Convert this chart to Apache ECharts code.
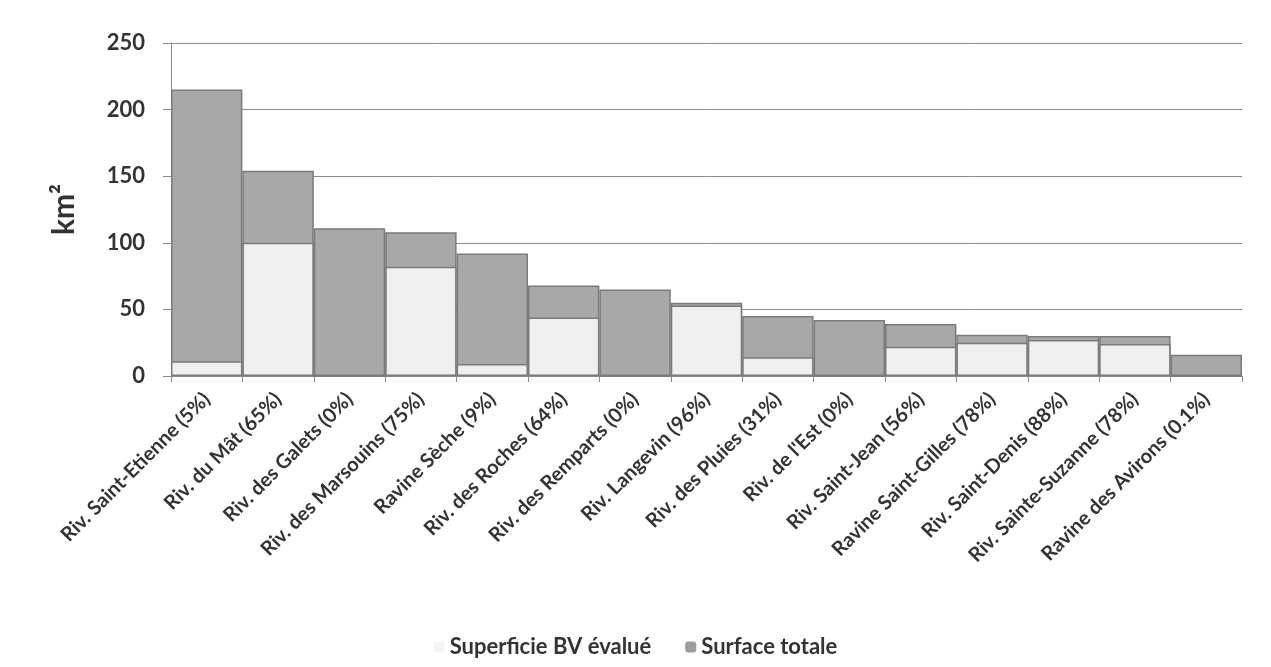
<!DOCTYPE html>
<html>
<head>
<meta charset="utf-8">
<script src="https://cdn.jsdelivr.net/npm/echarts@6/dist/echarts.min.js"></script>
<style>html,body{margin:0;padding:0;background:#fff;}#c{width:1271px;height:667px;}</style>
</head>
<body>
<div id="c"></div>
<script>
const categories = [
  "Riv. Saint-Etienne (5%)", "Riv. du Mât (65%)", "Riv. des Galets (0%)",
  "Riv. des Marsouins (75%)", "Ravine Sèche (9%)", "Riv. des Roches (64%)",
  "Riv. des Remparts (0%)", "Riv. Langevin (96%)", "Riv. des Pluies (31%)",
  "Riv. de l'Est (0%)", "Riv. Saint-Jean (56%)", "Ravine Saint-Gilles (78%)",
  "Riv. Saint-Denis (88%)", "Riv. Sainte-Suzanne (78%)", "Ravine des Avirons (0.1%)"
];
const surfaceTotale = [215, 154, 111, 108, 92, 68, 65, 55, 45, 42, 39, 31, 30, 30, 16];
const superficieEvaluee = [11, 100, 0, 82, 9, 44, 0, 53, 14, 0, 22, 25, 27, 24, 0];
const yTicks = [0, 50, 100, 150, 200, 250];

const font = "Lato, 'Open Sans', sans-serif";
const chart = echarts.init(document.getElementById('c'));
chart.setOption({
  animation: false,
  backgroundColor: '#ffffff',
  grid: { left: 171, right: 29, top: 43, bottom: 291 },
  legend: {
    bottom: 4,
    left: 'center',
    itemGap: 34,
    itemWidth: 11,
    itemHeight: 11,
    data: [
      { name: 'Superficie BV évalué', itemStyle: { color: '#f4f4f4', borderWidth: 0 } },
      { name: 'Surface totale', itemStyle: { color: '#9c9c9c', borderWidth: 0 } }
    ],
    textStyle: { fontFamily: font, fontSize: 22, fontWeight: 'bold', color: '#333' }
  },
  xAxis: {
    type: 'category',
    data: categories,
    axisLine: { lineStyle: { color: '#888', width: 1 } },
    axisTick: { show: true, interval: 0, length: 6, lineStyle: { color: '#888' } },
    axisLabel: {
      interval: 0, rotate: 45, margin: 20,
      fontFamily: font, fontSize: 20, fontWeight: 'bold', color: '#333'
    }
  },
  yAxis: {
    type: 'value',
    min: 0, max: 250, interval: 50,
    name: 'km²',
    nameLocation: 'middle',
    nameGap: 92,
    nameRotate: 90,
    nameTextStyle: { fontFamily: font, fontSize: 30, fontWeight: 'bold', color: '#333' },
    axisLine: { show: true, lineStyle: { color: '#888' } },
    axisTick: { show: true, length: 8, lineStyle: { color: '#888' } },
    axisLabel: {
      margin: 26, fontFamily: font, fontSize: 22, fontWeight: 'bold', color: '#333',
      formatter: v => yTicks.includes(v) ? String(v) : ''
    },
    splitLine: { lineStyle: { color: '#8a8a8a', width: 1 } }
  },
  series: [
    {
      name: 'Superficie BV évalué',
      type: 'bar',
      data: superficieEvaluee,
      barGap: '-100%',
      barCategoryGap: '0%',
      z: 3,
      itemStyle: { color: '#efefef', borderColor: '#7a7a7a', borderWidth: 1.5 }
    },
    {
      name: 'Surface totale',
      type: 'bar',
      data: surfaceTotale,
      barGap: '-100%',
      barCategoryGap: '0%',
      z: 2,
      itemStyle: { color: '#a8a8a8', borderColor: '#7a7a7a', borderWidth: 1.5 }
    }
  ]
});
</script>
</body>
</html>
